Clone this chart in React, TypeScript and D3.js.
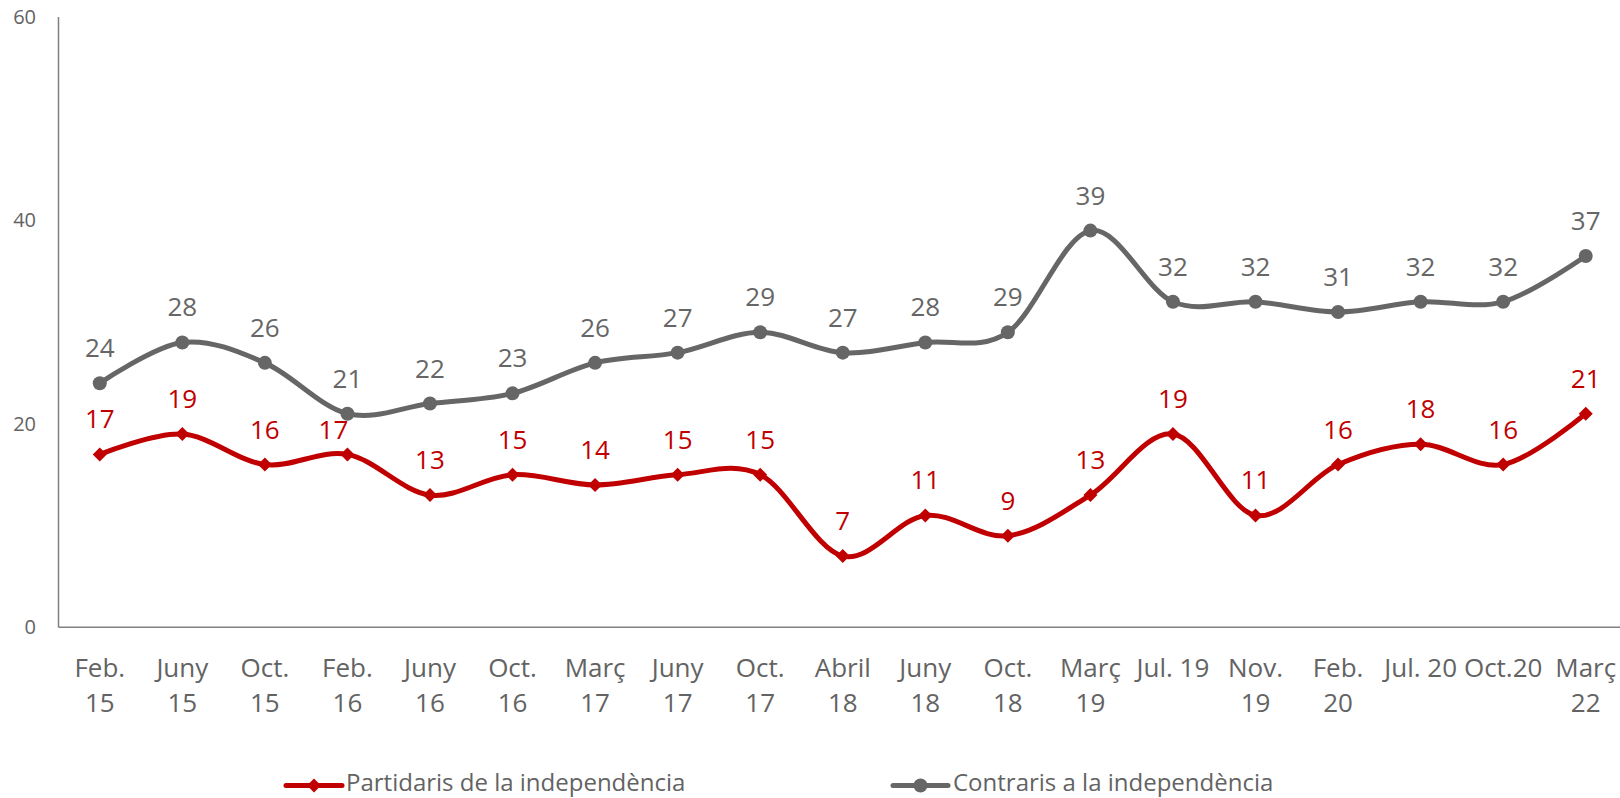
import React from "react";
import * as d3 from "d3";

const categories: string[][] = [
  ["Feb.", "15"], ["Juny", "15"], ["Oct.", "15"], ["Feb.", "16"], ["Juny", "16"],
  ["Oct.", "16"], ["Març", "17"], ["Juny", "17"], ["Oct.", "17"], ["Abril", "18"],
  ["Juny", "18"], ["Oct.", "18"], ["Març", "19"], ["Jul. 19"], ["Nov.", "19"],
  ["Feb.", "20"], ["Jul. 20"], ["Oct.20"], ["Març", "22"],
];
const partidaris: number[] = [17, 19, 16, 17, 13, 15, 14, 15, 15, 7, 11, 9, 13, 19, 11, 16, 18, 16, 21];
const contraris: number[] = [24, 28, 26, 21, 22, 23, 26, 27, 29, 27, 28, 29, 39, 32, 32, 31, 32, 32, 36.5];
const yTicks: number[] = [0, 20, 40, 60];
const seriesNames = ["Partidaris de la independència", "Contraris a la independència"];

const W = 1620;
const H = 798;
const RED = "#C00000";
const GREY = "#666666";
const TEXT = "#636363";
const FONT = "'Open Sans', 'Noto Sans', sans-serif";

// manual nudge of one label that was moved in the original to avoid overlap
const labelNudge: Record<string, [number, number]> = { "0-3": [-14, 11] };

export default function App() {
  const left = 58.5;
  const right = 1627;
  const top = 17;
  const bottom = 627.3;
  const idx = categories.map((_, i) => String(i));
  const x = d3.scaleBand<string>().domain(idx).range([left, right]);
  const cx = (i: number) => (x(String(i)) as number) + x.bandwidth() / 2;
  const y = d3.scaleLinear().domain([0, 60]).range([bottom, top]);
  const line = d3
    .line<number>()
    .x((_, i) => cx(i))
    .y((d) => y(d))
    .curve(d3.curveCardinal.tension(0));
  const fmt = d3.format(".0f");

  const series = [
    { name: seriesNames[0], data: partidaris, color: RED, marker: "diamond" },
    { name: seriesNames[1], data: contraris, color: GREY, marker: "circle" },
  ];
  const diamond = (px: number, py: number, r: number) =>
    `M${px},${py - r}L${px + r},${py}L${px},${py + r}L${px - r},${py}Z`;

  const legendItems = [
    { x0: 286, x1: 342, tx: 346, color: RED, marker: "diamond", name: seriesNames[0] },
    { x0: 893, x1: 948, tx: 953, color: GREY, marker: "circle", name: seriesNames[1] },
  ];
  const ly = 785.5;

  return (
    <svg
      width={W}
      height={H}
      style={{ position: "absolute", left: 0, top: 0, background: "#fff" }}
      fontFamily={FONT}
    >
      {/* axes */}
      <line x1={left} x2={left} y1={top} y2={bottom} stroke="#808080" strokeWidth={1.5} />
      <line x1={left} x2={W} y1={bottom} y2={bottom} stroke="#808080" strokeWidth={1.5} />
      {yTicks.map((t) => (
        <text key={t} x={36} y={y(t)} dy="0.35em" textAnchor="end" fontSize={20} fill={TEXT}>
          {t}
        </text>
      ))}
      {categories.map((c, i) => (
        <text key={i} x={cx(i)} y={676.5} textAnchor="middle" fontSize={26} fill={TEXT}>
          {c.map((s, j) => (
            <tspan key={j} x={cx(i)} dy={j === 0 ? 0 : 35}>
              {s}
            </tspan>
          ))}
        </text>
      ))}
      {/* series */}
      {series.map((s, si) => (
        <g key={s.name}>
          <path d={line(s.data) || ""} fill="none" stroke={s.color} strokeWidth={5} strokeLinejoin="round" strokeLinecap="round" />
          {s.data.map((v, i) =>
            s.marker === "circle" ? (
              <circle key={i} cx={cx(i)} cy={y(v)} r={7} fill={s.color} />
            ) : (
              <path key={i} d={diamond(cx(i), y(v), 7)} fill={s.color} />
            )
          )}
          {s.data.map((v, i) => {
            const [nx, ny] = labelNudge[`${si}-${i}`] || [0, 0];
            return (
              <text key={"l" + i} x={cx(i) + nx} y={y(v) - 26 + ny} textAnchor="middle" fontSize={26} fill={s.color}>
                {fmt(v)}
              </text>
            );
          })}
        </g>
      ))}
      {/* legend */}
      {legendItems.map((l) => (
        <g key={l.name}>
          <line x1={l.x0} x2={l.x1} y1={ly} y2={ly} stroke={l.color} strokeWidth={5} strokeLinecap="round" />
          {l.marker === "circle" ? (
            <circle cx={(l.x0 + l.x1) / 2} cy={ly} r={7} fill={l.color} />
          ) : (
            <path d={diamond((l.x0 + l.x1) / 2, ly, 7)} fill={l.color} />
          )}
          <text x={l.tx} y={791} fontSize={24} fill={TEXT}>
            {l.name}
          </text>
        </g>
      ))}
    </svg>
  );
}
